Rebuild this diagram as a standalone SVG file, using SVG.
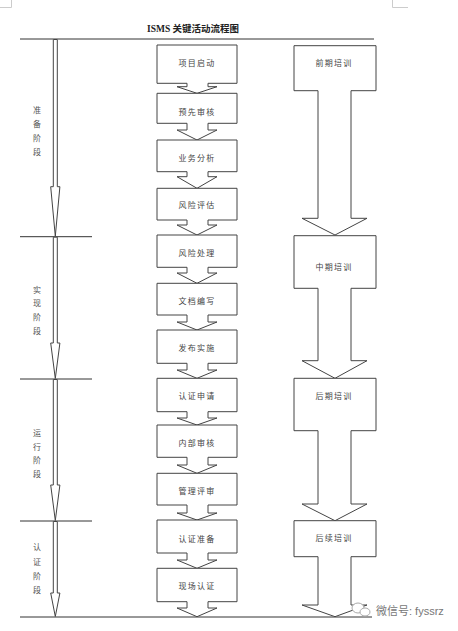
<svg xmlns="http://www.w3.org/2000/svg" width="458" height="631" viewBox="0 0 458 631">
<style>
.ln{stroke:#333;stroke-width:1;fill:none}
.sh{stroke:#444;stroke-width:1;fill:#fff}
.t{font-family:"Noto Sans CJK SC","Liberation Sans",sans-serif;font-size:8px;fill:#444;text-anchor:middle;letter-spacing:1.2px}
.lb{font-family:"Noto Sans CJK SC","Liberation Sans",sans-serif;font-size:8px;fill:#555;text-anchor:middle}
.title{font-family:"Liberation Serif","Noto Sans CJK SC",serif;font-size:9.5px;font-weight:bold;fill:#222;text-anchor:middle}
.wm{font-family:"Liberation Sans","Noto Sans CJK SC",sans-serif;font-size:11px;fill:#777}
.mk{stroke:#ccc;stroke-width:1;fill:none}
</style>
<rect width="458" height="631" fill="#fff"/>
<g id="page-marks">
<path class="mk" d="M11.5,0 V7.5 H0 M392.5,0 V7.5 H408"/>
</g>
<text id="title" class="title" x="193" y="31.5">ISMS 关键活动流程图</text>
<g id="frame-lines">
<line class="ln" x1="20" y1="39" x2="374" y2="39"/>
<line class="ln" x1="20" y1="236.7" x2="92" y2="236.7"/>
<line class="ln" x1="20" y1="379" x2="92" y2="379"/>
<line class="ln" x1="20" y1="521" x2="92" y2="521"/>
<line class="ln" x1="20" y1="617" x2="372" y2="617"/>
</g>
<g id="connectors">
<polygon class="sh" points="53.3,39.5 53.3,186.7 50.7,186.7 55.3,236.2 59.9,186.7 57.3,186.7 57.3,39.5"/>
<polygon class="sh" points="53.3,237.2 53.3,343 50.7,343 55.3,378.5 59.9,343 57.3,343 57.3,237.2"/>
<polygon class="sh" points="53.3,379.5 53.3,485 50.7,485 55.3,520.5 59.9,485 57.3,485 57.3,379.5"/>
<polygon class="sh" points="53.3,521.5 53.3,593 50.7,593 55.3,616.5 59.9,593 57.3,593 57.3,521.5"/>
</g>
<g id="phase-prep">
<text class="lb" x="37" y="113">准</text><text class="lb" x="37" y="127">备</text><text class="lb" x="37" y="141">阶</text><text class="lb" x="37" y="155">段</text>
</g>
<g id="phase-impl">
<text class="lb" x="37" y="293">实</text><text class="lb" x="37" y="306">现</text><text class="lb" x="37" y="320">阶</text><text class="lb" x="37" y="334">段</text>
</g>
<g id="phase-run">
<text class="lb" x="37" y="436">运</text><text class="lb" x="37" y="450">行</text><text class="lb" x="37" y="463">阶</text><text class="lb" x="37" y="477">段</text>
</g>
<g id="phase-cert">
<text class="lb" x="37" y="550">认</text><text class="lb" x="37" y="565">证</text><text class="lb" x="37" y="579">阶</text><text class="lb" x="37" y="593">段</text>
</g>
<g id="n1"><polygon class="sh" points="157,45 237,45 237,83.3 208,83.3 208,86.7 217,86.7 197,93.3 177,86.7 187,86.7 187,83.3 157,83.3"/><text class="t" x="197" y="66.3">项目启动</text></g>
<g id="n2"><polygon class="sh" points="157,93.3 237,93.3 237,123.3 208,123.3 208,130 217,130 197,140 177,130 187,130 187,123.3 157,123.3"/><text class="t" x="197" y="114.5">预先审核</text></g>
<g id="n3"><polygon class="sh" points="157,140 237,140 237,171.7 208,171.7 208,176.7 217,176.7 197,188.3 177,176.7 187,176.7 187,171.7 157,171.7"/><text class="t" x="197" y="161.3">业务分析</text></g>
<g id="n4"><polygon class="sh" points="157,188.3 237,188.3 237,220 208,220 208,225 217,225 197,235 177,225 187,225 187,220 157,220"/><text class="t" x="197" y="208">风险评估</text></g>
<g id="n5"><polygon class="sh" points="157,235 237,235 237,267.3 208,267.3 208,273 217,273 197,283.3 177,273 187,273 187,267.3 157,267.3"/><text class="t" x="197" y="256.3">风险处理</text></g>
<g id="n6"><polygon class="sh" points="157,283.3 237,283.3 237,315 208,315 208,322 217,322 197,330 177,322 187,322 187,315 157,315"/><text class="t" x="197" y="303.7">文档编写</text></g>
<g id="n7"><polygon class="sh" points="157,330 237,330 237,363.3 208,363.3 208,370 217,370 197,378.3 177,370 187,370 187,363.3 157,363.3"/><text class="t" x="197" y="351.3">发布实施</text></g>
<g id="n8"><polygon class="sh" points="157,378.3 237,378.3 237,411.7 208,411.7 208,418 217,418 197,425 177,418 187,418 187,411.7 157,411.7"/><text class="t" x="197" y="398.7">认证申请</text></g>
<g id="n9"><polygon class="sh" points="157,425 237,425 237,457.3 208,457.3 208,465 217,465 197,473.3 177,465 187,465 187,457.3 157,457.3"/><text class="t" x="197" y="446.3">内部审核</text></g>
<g id="n10"><polygon class="sh" points="157,473.3 237,473.3 237,505 208,505 208,513 217,513 197,520 177,513 187,513 187,505 157,505"/><text class="t" x="197" y="493.7">管理评审</text></g>
<g id="n11"><polygon class="sh" points="157,520 237,520 237,553 208,553 208,560 217,560 197,568.3 177,560 187,560 187,553 157,553"/><text class="t" x="197" y="542">认证准备</text></g>
<g id="n12"><polygon class="sh" points="157,568.3 237,568.3 237,601.7 208,601.7 208,608 217,608 197,616.7 177,608 187,608 187,601.7 157,601.7"/><text class="t" x="197" y="588.7">现场认证</text></g>
<g id="tr1"><polygon class="sh" points="294,45.7 376,45.7 376,90.7 351,90.7 351,218.3 367,218.3 335,235 302,218.3 318,218.3 318,90.7 294,90.7"/><text class="t" x="334" y="66.3">前期培训</text></g>
<g id="tr2"><polygon class="sh" points="294,235.7 376,235.7 376,288.3 351,288.3 351,360.7 367,360.7 335,378.3 302,360.7 318,360.7 318,288.3 294,288.3"/><text class="t" x="334" y="269.7">中期培训</text></g>
<g id="tr3"><polygon class="sh" points="294,378.3 376,378.3 376,430.7 351,430.7 351,504 367,504 335,520.7 302,504 318,504 318,430.7 294,430.7"/><text class="t" x="334" y="399">后期培训</text></g>
<g id="tr4"><polygon class="sh" points="294,520.7 376,520.7 376,556.7 351,556.7 351,605 367,605 335,616.7 302,605 318,605 318,556.7 294,556.7"/><text class="t" x="334" y="541.3">后续培训</text></g>
<g id="watermark">
<ellipse cx="358" cy="608" rx="6" ry="5" fill="#fff" stroke="#aaa" stroke-width="1"/>
<ellipse cx="365" cy="612" rx="5" ry="4" fill="#fff" stroke="#aaa" stroke-width="1"/>
<text class="wm" x="376" y="614.5">微信号: fyssrz</text>
</g>
</svg>
